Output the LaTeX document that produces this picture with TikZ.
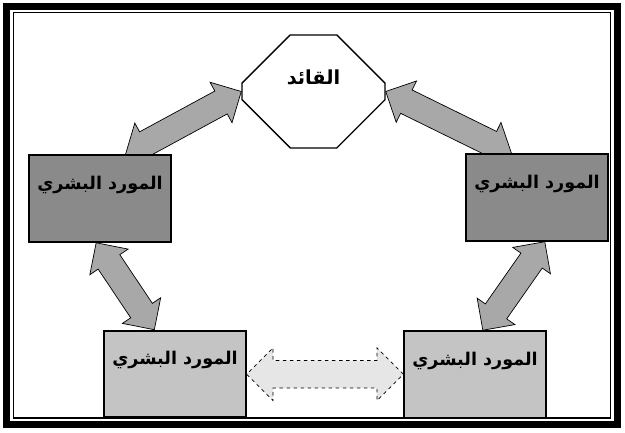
\documentclass[tikz,border=0pt]{standalone}
\usepackage{fontspec}
\newfontfamily\arabicfont[Script=Arabic]{DejaVu Sans}
\TeXXeTstate=1
\usetikzlibrary{shapes.misc,shapes.arrows,calc,backgrounds}
\definecolor{hrdark}{HTML}{8A8A8A}
\definecolor{hrlight}{HTML}{C4C4C4}
\definecolor{arrowgray}{HTML}{A8A8A8}
\definecolor{linkgray}{HTML}{E6E6E6}

\begin{document}
\begin{tikzpicture}[x=.03cm,y=.03cm,
  hrbox/.style={draw,line width=1.5pt,minimum width=4.25cm,minimum height=2.6cm,inner sep=0pt,text depth=.95cm,font=\arabicfont\bfseries\fontsize{15}{18}\selectfont},
  leaderbox/.style={draw,line width=1.2pt,fill=white,chamfered rectangle,chamfered rectangle xsep=1cm,chamfered rectangle ysep=1cm,minimum width=4.29cm,minimum height=3.39cm,inner sep=0pt,text depth=.85cm,font=\arabicfont\bfseries\fontsize{16.5}{19}\selectfont},
  fatarrow/.style={double arrow,draw,line width=.6pt,fill=arrowgray,double arrow head extend=.3cm,inner xsep=0pt,inner ysep=.38cm,text height=0pt,text depth=0pt},
  linkarrow/.style={fatarrow,fill=linkgray,dashed,inner ysep=.4cm,double arrow head extend=.38cm}]
\useasboundingbox (0,0) rectangle (625,433);
% frame
\draw[line width=.21cm] (6.5,8.5) rectangle (617.5,426.5);
\draw[line width=.045cm] (13.5,15) rectangle (610.5,420.5);
% leader and resources
\node[leaderbox] (leader) at (313.5,341.5) {\beginR القائد\endR};
\node[hrbox,fill=hrdark] (hrTL) at (100,234.5) {\beginR المورد البشري\endR};
\node[hrbox,fill=hrdark] (hrTR) at (537,235.5) {\beginR المورد البشري\endR};
\node[hrbox,fill=hrlight] (hrBL) at (175,59) {\beginR المورد البشري\endR};
\node[hrbox,fill=hrlight] (hrBR) at (475,58.5) {\beginR المورد البشري\endR};
% arrows
\begin{scope}[on background layer]
\foreach \from/\to/\nm in {leader.west/hrTL.60/arTL,leader.east/hrTR.120/arTR,hrTL.-95/hrBL.115/arL,hrTR.-80/hrBR.80/arR}
  \path let \p1=(\from), \p2=(\to), \n1={atan2(\y2-\y1,\x2-\x1)}, \n2={veclen(\x2-\x1,\y2-\y1)} in
    node[fatarrow,rotate=\n1,minimum height=\n2] (\nm) at ($(\p1)!.5!(\p2)$) {};
\path let \p1=(hrBL.east), \p2=(hrBR.west), \n2={veclen(\x2-\x1,\y2-\y1)} in
  node[linkarrow,minimum height=\n2] (arB) at ($(\p1)!.5!(\p2)$) {};
\end{scope}
\end{tikzpicture}
\end{document}
